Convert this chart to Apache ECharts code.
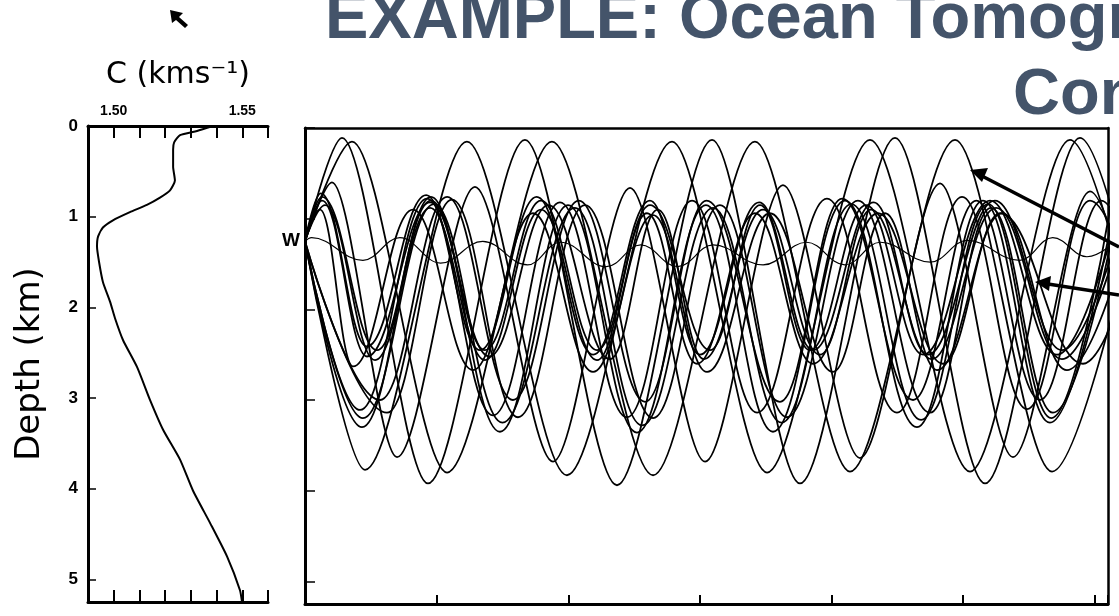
<!DOCTYPE html>
<html>
<head>
<meta charset="utf-8">
<script src="https://cdn.jsdelivr.net/npm/echarts@6/dist/echarts.min.js"></script>
<style>html,body{margin:0;padding:0;background:#fff}#c{width:1119px;height:616px}</style>
</head>
<body>
<div id="c"></div>
<script>
// ---- sound-speed profile: [c (km/s), depth (km)] ----
const profile = [[1.5386,0.0],[1.5324,0.055],[1.5258,0.10],[1.5235,0.18],[1.5231,0.26],[1.5231,0.45],[1.5238,0.60],
  [1.5219,0.71],[1.5180,0.79],[1.5129,0.87],[1.5063,0.95],[1.4997,1.04],[1.4958,1.12],[1.4939,1.22],[1.4935,1.33],
  [1.4943,1.50],[1.4958,1.72],[1.4986,1.94],[1.5005,2.12],[1.5036,2.36],[1.5091,2.66],[1.5141,3.02],[1.5192,3.35],
  [1.5258,3.68],[1.5308,4.02],[1.5375,4.38],[1.5441,4.75],[1.5491,5.12],[1.5499,5.25]];
const cTickLabels = ['1.50','1.55'];
const depthTickLabels = ['0','1','2','3','4','5'];

// ---- ray paths: [range, depth (km)] turning points ----
const rayAxial = [[0,1.25],[5,1.21],[44,1.46],[72,1.21],[103,1.49],[135,1.25],[169,1.51],[194,1.26],[229,1.53],[255,1.29],
  [283,1.53],[310,1.29],[348,1.51],[381,1.26],[410,1.51],[437,1.26],[475,1.48],[503,1.24],[543,1.46],[568,1.21],[594,1.42],[620,1.2]];
const rayA1 = [[0,1.25],[28.1,0.11],[93.4,3.92],[167.1,0.13],[237,3.94],[309.2,0.13],[376,3.92],[448.2,0.11],[516.6,3.92],[588.7,0.11],[660,3.9]];
const rayA2 = [[0,1.25],[35.7,0.15],[107.9,3.80],[187.6,0.15],[264.4,3.83],[341.8,0.15],[414,3.79],[493.8,0.13],[567.5,3.79],[645,0.13]];
const rayA3 = [[0,1.25],[45.6,3.77],[123,0.15],[199,3.83],[278.8,0.15],[351,3.80],[429.2,0.13],[505.2,3.79],[581.1,0.13],[655,3.8]];
const rayA4 = [[0,1.25],[20.5,0.6],[69.9,3.63],[129.1,0.65],[188.4,3.68],[246.9,0.66],[303.9,3.68],[363.1,0.63],[421.6,3.64],[482.4,0.61],[537.8,3.63],[596.3,0.7],[655,3.65]];
const rayI1 = [[0,1.25],[12.9,0.76],[54.7,2.45],[95.7,0.76],[136.7,2.45],[179.3,0.8],[221.8,2.45],[262.1,0.85],[307.7,2.45],[345.6,0.85],[383.6,2.45],[426.2,0.85],[469.5,2.5],[520.4,0.8],[571.2,2.5],[620,0.8]];
const rayI2 = [[0,1.25],[15.2,0.85],[53.2,2.56],[95,0.88],[136.7,2.56],[179.3,0.9],[221.8,2.56],[259.8,0.94],[297.8,2.6],[341.8,0.94],[385.9,2.6],[435.3,0.94],[484.7,2.6],[528,0.94],[591,2.6],[640,0.94]];
const rayI3 = [[0,1.25],[11.4,0.9],[36.5,2.63],[82,0.9],[127.6,2.67],[173.2,0.94],[218.8,2.69],[264.4,0.96],[305.4,2.69],[353.2,0.94],[401.1,2.69],[440.6,0.94],[480.1,2.67],[529.5,0.94],[578.8,2.67],[630,0.94]];
const rayI4 = [[0,1.25],[13,0.8],[47.1,2.52],[95,0.82],[140,2.52],[185,0.85],[231.7,2.55],[268,0.9],[303,2.55],[348,0.9],[391.2,2.5],[430,0.9],[476,2.55],[525,0.88],[575,2.55],[625,0.9]];
const rayI5 = [[0,1.25],[12,0.72],[47,2.41],[92,0.74],[133,2.45],[176,0.76],[219,2.5],[262,0.8],[300,2.5],[345,0.82],[386,2.45],[432,0.82],[473,2.5],[524,0.8],[575,2.45],[625,0.8]];
const rayII1 = [[0,1.25],[41.8,3.11],[92.7,0.78],[142.8,3.17],[193.7,0.82],[244.6,3.19],[294,0.8],[343.4,3.14],[396.5,0.78],[449.7,3.14],[499.1,0.76],[548.5,3.1],[596.3,0.8],[650,3.1]];
const rayII2 = [[0,1.25],[43.3,3.30],[95.7,0.8],[148.1,3.35],[199.8,0.85],[252.2,3.36],[304.6,0.85],[355.5,3.35],[410.2,0.8],[464.9,3.30],[515,0.8],[565.9,3.25],[615,0.85]];
const rayII3 = [[0,1.25],[62.3,3.14],[111.7,0.79],[161.8,3.19],[212.7,0.85],[264.4,3.2],[315.2,0.85],[366.1,3.19],[420,0.8],[474.8,3.14],[521.1,0.88],[568.2,3.14],[618,0.85]];
const rayII4 = [[0,1.25],[57,3.0],[108,0.76],[158,3.0],[208,0.8],[258.3,3.02],[305,0.8],[360.8,3.02],[408,0.78],[461.9,3.0],[510,0.8],[558.3,3.0],[605,0.8],[650,3.0]];
const rayII5 = [[0,1.25],[44,3.2],[98,0.84],[150,3.25],[205,0.88],[256,3.28],[310,0.88],[362,3.25],[415,0.84],[468,3.22],[519,0.84],[567,3.2],[612,0.86]];
const steepRays = [rayA1, rayA2, rayA3, rayA4];
const midRays = [rayI1, rayI2, rayI3, rayI4, rayI5, rayII1, rayII2, rayII3, rayII4, rayII5];

const chart = echarts.init(document.getElementById('c'));
const F = 'Liberation Sans, Arial, sans-serif';
const series = [{
  type: 'line', xAxisIndex: 0, yAxisIndex: 0, data: profile, showSymbol: false, smooth: 0.2,
  lineStyle: { color: '#000', width: 2 }, silent: true, z: 3
}];
const addRay = (r, s, w) => series.push({
  type: 'line', xAxisIndex: 2, yAxisIndex: 1, data: r, showSymbol: false, smooth: s, smoothMonotone: 'x',
  lineStyle: { color: '#000', width: w }, silent: true, clip: true
});
steepRays.forEach(r => addRay(r, 0.3, 1.8));
midRays.forEach(r => addRay(r, 0.4, 1.8));
addRay(rayAxial, 0.4, 1.2);

const axisLine = w => ({ show: true, onZero: false, lineStyle: { color: '#000', width: w } });
chart.setOption({
  animation: false,
  backgroundColor: '#fff',
  grid: [
    { left: 88, top: 126, width: 180, height: 476 },
    { left: 305, top: 128, width: 803, height: 476 }
  ],
  xAxis: [
    { gridIndex: 0, type: 'value', position: 'top', min: 1.49, max: 1.56, interval: 0.01,
      axisLine: axisLine(3), axisTick: { inside: true, length: 12, lineStyle: { color: '#000', width: 2 } },
      axisLabel: { margin: 8, fontFamily: F, fontWeight: 'bold', fontSize: 14, color: '#000',
        formatter: v => { const i = [1.50, 1.55].findIndex(t => Math.abs(t - v) < 1e-6); return i >= 0 ? cTickLabels[i] : ''; } },
      splitLine: { show: false } },
    { gridIndex: 0, type: 'value', position: 'bottom', min: 1.49, max: 1.56, interval: 0.01,
      axisLine: axisLine(3), axisTick: { inside: true, length: 12, lineStyle: { color: '#000', width: 2 } },
      axisLabel: { show: false }, splitLine: { show: false } },
    { gridIndex: 1, type: 'value', position: 'bottom', min: 0, max: 610, interval: 100,
      axisLine: axisLine(3), axisTick: { inside: true, length: 9, lineStyle: { color: '#000', width: 2 } },
      axisLabel: { show: false }, splitLine: { show: false } },
    { gridIndex: 1, type: 'value', position: 'top', min: 0, max: 610,
      axisLine: axisLine(2.5), axisTick: { show: false }, axisLabel: { show: false }, splitLine: { show: false } }
  ],
  yAxis: [
    { gridIndex: 0, type: 'value', inverse: true, position: 'left', min: 0, max: 5.25, interval: 1,
      axisLine: axisLine(3), axisTick: { inside: true, length: 8, lineStyle: { color: '#000', width: 1.5 } },
      axisLabel: { margin: 10, fontFamily: F, fontWeight: 'bold', fontSize: 17, color: '#000',
        formatter: v => depthTickLabels[Math.round(v)] !== undefined && Math.abs(v - Math.round(v)) < 1e-6 ? depthTickLabels[Math.round(v)] : '' },
      splitLine: { show: false } },
    { gridIndex: 1, type: 'value', inverse: true, position: 'left', min: 0, max: 5.25, interval: 1,
      axisLine: axisLine(3), axisTick: { inside: true, length: 10, lineStyle: { color: '#000', width: 1.5 } },
      axisLabel: { show: false }, splitLine: { show: false } },
    { gridIndex: 1, type: 'value', inverse: true, position: 'right', min: 0, max: 5.25,
      axisLine: axisLine(2.5), axisTick: { show: false }, axisLabel: { show: false }, splitLine: { show: false } }
  ],
  series: series,
  graphic: [
    { type: 'text', left: 325, top: -12, style: { text: 'EXAMPLE: Ocean Tomography', fontFamily: F, fontWeight: 'bold', fontSize: 65, fill: '#44546A' } },
    { type: 'text', left: 1013, top: 64, style: { text: 'Concept', fontFamily: F, fontWeight: 'bold', fontSize: 65, fill: '#44546A' } },
    { type: 'text', x: 178, y: 75, style: { text: 'C (kms\u207B\u00B9)', fontFamily: 'DejaVu Sans', fontSize: 30, fill: '#000', align: 'center', verticalAlign: 'middle' } },
    { type: 'text', x: 30, y: 364, rotation: Math.PI / 2, style: { text: 'Depth (km)', fontFamily: 'DejaVu Sans', fontSize: 34, fill: '#000', align: 'center', verticalAlign: 'middle' } },
    { type: 'text', x: 291, y: 241, style: { text: 'W', fontFamily: F, fontWeight: 'bold', fontSize: 19, fill: '#000', align: 'center', verticalAlign: 'middle' } },
    { type: 'polygon', shape: { points: [[170,10],[183,13],[179,17],[188,25],[185,28],[176,20],[172,23]] }, style: { fill: '#000' } },
    { type: 'line', shape: { x1: 1119, y1: 247, x2: 982, y2: 176 }, style: { stroke: '#000', lineWidth: 3.5 } },
    { type: 'polygon', shape: { points: [[970,170],[988,168],[982,182]] }, style: { fill: '#000' } },
    { type: 'line', shape: { x1: 1119, y1: 295, x2: 1048, y2: 284 }, style: { stroke: '#000', lineWidth: 3.5 } },
    { type: 'polygon', shape: { points: [[1035,282],[1051,276],[1049,291]] }, style: { fill: '#000' } }
  ]
});
</script>
</body>
</html>
